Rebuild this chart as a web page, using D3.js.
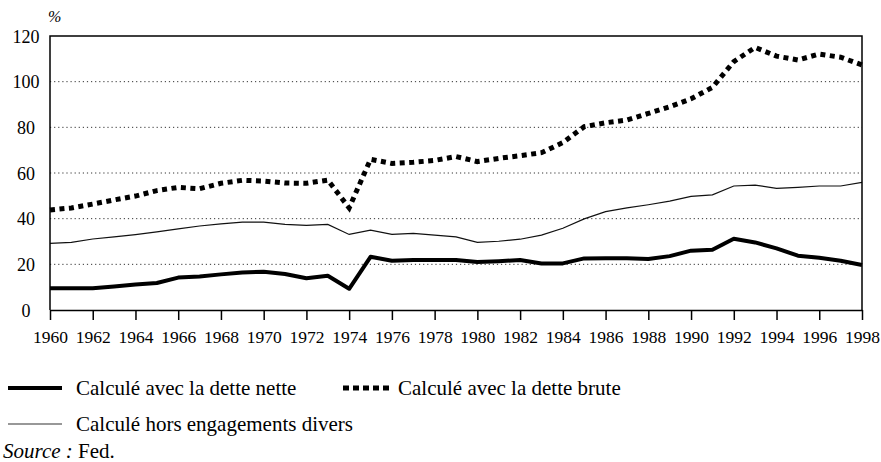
<!DOCTYPE html>
<html>
<head>
<meta charset="utf-8">
<script src="https://cdn.jsdelivr.net/npm/d3@7"></script>
<style>
  body { margin: 0; background: #fff; }
  svg, svg text { font-family: "Liberation Serif", "Times New Roman", Times, "DejaVu Serif", serif !important; }
</style>
</head>
<body>
<div id="chart"></div>
<script>
// Years on the x axis
const years = [
  1960, 1961, 1962, 1963, 1964, 1965, 1966, 1967, 1968, 1969,
  1970, 1971, 1972, 1973, 1974, 1975, 1976, 1977, 1978, 1979,
  1980, 1981, 1982, 1983, 1984, 1985, 1986, 1987, 1988, 1989,
  1990, 1991, 1992, 1993, 1994, 1995, 1996, 1997, 1998
];
const tickYears = [
  1960, 1962, 1964, 1966, 1968, 1970, 1972, 1974, 1976, 1978,
  1980, 1982, 1984, 1986, 1988, 1990, 1992, 1994, 1996, 1998
];
const yTicks = [0, 20, 40, 60, 80, 100, 120];

// Series values (%)
const netDebt = [
  9.5, 9.5, 9.5, 10.3, 11.2, 11.8, 14.2, 14.7, 15.6, 16.4,
  16.8, 15.8, 13.9, 15.0, 9.3, 23.3, 21.6, 21.9, 21.9, 21.9,
  21.0, 21.4, 21.9, 20.4, 20.4, 22.6, 22.7, 22.7, 22.3, 23.6,
  26.0, 26.4, 31.2, 29.6, 27.0, 23.8, 22.9, 21.6, 19.7
];
const grossDebt = [
  43.8, 44.7, 46.4, 48.2, 49.9, 52.3, 53.7, 53.1, 55.5, 56.8,
  56.5, 55.6, 55.5, 56.9, 44.7, 66.0, 64.2, 64.7, 65.5, 67.2,
  65.0, 66.4, 67.6, 68.9, 73.3, 80.3, 82.0, 83.2, 86.1, 89.0,
  92.5, 97.5, 108.8, 115.0, 111.2, 109.5, 112.1, 110.7, 107.3
];
const exclMisc = [
  29.2, 29.6, 31.1, 32.0, 33.0, 34.2, 35.5, 36.8, 37.7, 38.5,
  38.5, 37.5, 37.1, 37.5, 33.1, 35.0, 33.1, 33.6, 32.8, 32.0,
  29.6, 30.1, 31.0, 32.8, 35.8, 39.9, 43.1, 44.7, 46.1, 47.7,
  49.8, 50.4, 54.3, 54.7, 53.3, 53.7, 54.3, 54.3, 55.9
];

const legendLabels = [
  "Calculé avec la dette nette",
  "Calculé avec la dette brute",
  "Calculé hors engagements divers"
];

const W = 881, H = 462;
const plot = { left: 50, right: 862, top: 36, bottom: 310 };
const serif = '"Liberation Serif", "Times New Roman", Times, "DejaVu Serif", serif';

const svg = d3.select("#chart").append("svg")
  .attr("width", W)
  .attr("height", H)
  .attr("font-family", serif);

const x = d3.scaleLinear().domain([1960, 1998]).range([plot.left, plot.right]);
const y = d3.scaleLinear().domain([0, 120]).range([plot.bottom, plot.top]);

// dotted gridlines
svg.append("g")
  .selectAll("line")
  .data(yTicks.filter(d => d > 0 && d < 120))
  .enter()
  .append("line")
  .attr("x1", plot.left)
  .attr("x2", plot.right)
  .attr("y1", d => y(d))
  .attr("y2", d => y(d))
  .attr("stroke", "#333")
  .attr("stroke-width", 1)
  .attr("stroke-dasharray", "1.2,2.9");

// x axis
const xAxis = svg.append("g")
  .attr("transform", `translate(0,${plot.bottom})`)
  .call(d3.axisBottom(x).tickValues(tickYears).tickFormat(d3.format("d")).tickSize(10).tickSizeOuter(0))
  .attr("font-family", serif)
  .attr("font-size", 17.5);
xAxis.select(".domain").attr("stroke", "#000").attr("stroke-width", 1.5);
xAxis.selectAll(".tick line").attr("stroke", "#000").attr("stroke-width", 1.5);
xAxis.selectAll(".tick text")
  .attr("y", 19)
  .attr("dy", "0.78em")
  .attr("fill", "#000");

// y axis
const yAxis = svg.append("g")
  .attr("transform", `translate(${plot.left},0)`)
  .call(d3.axisLeft(y).tickValues(yTicks).tickSize(0))
  .attr("font-family", serif)
  .attr("font-size", 18);
yAxis.select(".domain").remove();
yAxis.selectAll(".tick text")
  .attr("x", -24)
  .attr("text-anchor", "middle")
  .attr("dy", "0.34em")
  .attr("fill", "#000");

svg.append("text")
  .attr("x", 48)
  .attr("y", 22)
  .attr("font-size", 16)
  .attr("font-style", "italic")
  .text("%");

// series lines
const line = d3.line()
  .x((d, i) => x(years[i]))
  .y(d => y(d));

svg.append("path")
  .datum(exclMisc)
  .attr("d", line)
  .attr("fill", "none")
  .attr("stroke", "#111")
  .attr("stroke-width", 1.2);

svg.append("path")
  .datum(grossDebt)
  .attr("d", line)
  .attr("fill", "none")
  .attr("stroke", "#000")
  .attr("stroke-width", 5)
  .attr("stroke-dasharray", "5,4.5");

svg.append("path")
  .datum(netDebt)
  .attr("d", line)
  .attr("fill", "none")
  .attr("stroke", "#000")
  .attr("stroke-width", 4)
  .attr("stroke-linejoin", "round");

// frame (top, left, right)
svg.append("path")
  .attr("d", `M${plot.left},${plot.bottom}V${plot.top}H${plot.right}V${plot.bottom}`)
  .attr("fill", "none")
  .attr("stroke", "#000")
  .attr("stroke-width", 1.5);

// legend
const legend = svg.append("g").attr("font-size", 21);

legend.append("line")
  .attr("x1", 8).attr("x2", 62).attr("y1", 388).attr("y2", 388)
  .attr("stroke", "#000").attr("stroke-width", 4);
legend.append("text").attr("x", 76).attr("y", 395).text(legendLabels[0]);

legend.append("line")
  .attr("x1", 343).attr("x2", 393).attr("y1", 388).attr("y2", 388)
  .attr("stroke", "#000").attr("stroke-width", 5).attr("stroke-dasharray", "6,4");
legend.append("text").attr("x", 398).attr("y", 395).text(legendLabels[1]);

legend.append("line")
  .attr("x1", 8).attr("x2", 62).attr("y1", 424).attr("y2", 424)
  .attr("stroke", "#333").attr("stroke-width", 1.2);
legend.append("text").attr("x", 76).attr("y", 431).text(legendLabels[2]);

const src = legend.append("text").attr("x", 3).attr("y", 458);
src.append("tspan").attr("font-style", "italic").text("Source :");
src.append("tspan").text(" Fed.");
</script>
</body>
</html>
